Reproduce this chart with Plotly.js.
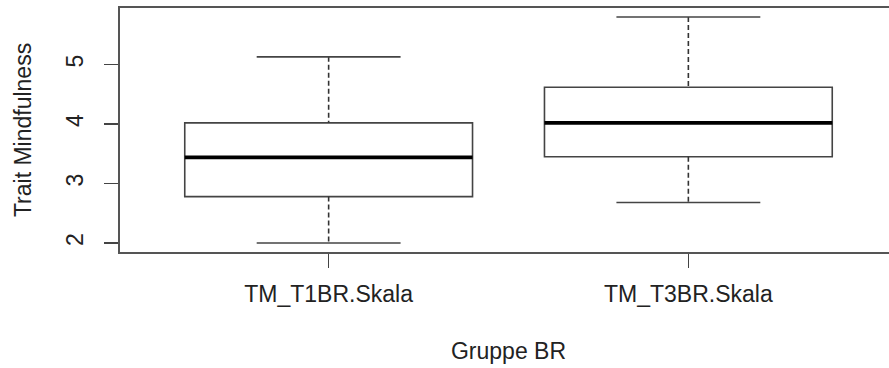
<!DOCTYPE html>
<html>
<head>
<meta charset="utf-8">
<script src="https://cdn.plot.ly/plotly-3.0.1.min.js"></script>
<style>
  html, body { margin: 0; padding: 0; overflow: hidden; background: #fff; }
</style>
</head>
<body>
<div id="plot"></div>
<script>
// groups and five-number summaries
const groups = ["TM_T1BR.Skala", "TM_T3BR.Skala"];
const lowerWhisker = [2.00, 2.68];
const q1 = [2.78, 3.45];
const median = [3.44, 4.02];
const q3 = [4.02, 4.62];
const upperWhisker = [5.13, 5.80];
const yTicks = [2, 3, 4, 5];

const pos = groups.map((g, i) => i + 1);
const boxw = 0.8;   // R boxwex
const capw = 0.4;   // staple width

// boxes only (whiskers drawn separately so they can be dashed)
let boxes = {
  type: 'box',
  x: pos,
  q1: q1,
  median: median,
  q3: q3,
  lowerfence: q1,
  upperfence: q3,
  width: boxw,
  whiskerwidth: 0,
  fillcolor: 'rgba(0,0,0,0)',
  line: {color: '#444', width: 1.6},
  boxpoints: false,
  hoverinfo: 'skip'
};

// dashed whiskers
let wx = [], wy = [];
pos.forEach((p, i) => {
  wx.push(p, p, null, p, p, null);
  wy.push(upperWhisker[i], q3[i], null, q1[i], lowerWhisker[i], null);
});
let whiskers = {
  type: 'scatter', mode: 'lines', x: wx, y: wy,
  line: {color: '#333', width: 1.6, dash: '5px,3px'},
  hoverinfo: 'skip'
};

// staples
let cx = [], cy = [];
pos.forEach((p, i) => {
  cx.push(p - capw / 2, p + capw / 2, null, p - capw / 2, p + capw / 2, null);
  cy.push(upperWhisker[i], upperWhisker[i], null, lowerWhisker[i], lowerWhisker[i], null);
});
let caps = {
  type: 'scatter', mode: 'lines', x: cx, y: cy,
  line: {color: '#444', width: 1.6},
  hoverinfo: 'skip'
};

// thick median bars
let mx = [], my = [];
pos.forEach((p, i) => {
  mx.push(p - boxw / 2, p + boxw / 2, null);
  my.push(median[i], median[i], null);
});
let medians = {
  type: 'scatter', mode: 'lines', x: mx, y: my,
  line: {color: '#000', width: 3.6},
  hoverinfo: 'skip'
};

const font = {family: '"Liberation Sans", Arial, sans-serif', size: 23, color: '#222'};

let layout = {
  width: 905,
  height: 368,
  margin: {l: 120, r: 8, t: 8, b: 116},
  paper_bgcolor: '#fff',
  plot_bgcolor: '#fff',
  showlegend: false,
  font: font,
  xaxis: {
    range: [0.42, 2.58],
    tickvals: pos,
    ticktext: groups,
    ticks: 'outside',
    ticklen: 14,
    tickwidth: 1.5,
    tickcolor: '#444',
    showline: true,
    mirror: true,
    linecolor: '#555',
    linewidth: 1.6,
    showgrid: false,
    zeroline: false,
    ticklabelstandoff: 7,
    title: {text: 'Gruppe BR', font: font, standoff: 36}
  },
  yaxis: {
    range: [1.848, 5.952],
    tickvals: yTicks,
    ticks: 'outside',
    ticklen: 14,
    tickwidth: 1.5,
    tickcolor: '#444',
    tickangle: -90,
    showline: true,
    mirror: true,
    linecolor: '#555',
    linewidth: 1.6,
    showgrid: false,
    zeroline: false,
    ticklabelstandoff: 12,
    title: {text: 'Trait Mindfulness', font: font, standoff: 24}
  }
};

Plotly.newPlot('plot', [boxes, whiskers, caps, medians], layout, {staticPlot: true});
</script>
</body>
</html>
